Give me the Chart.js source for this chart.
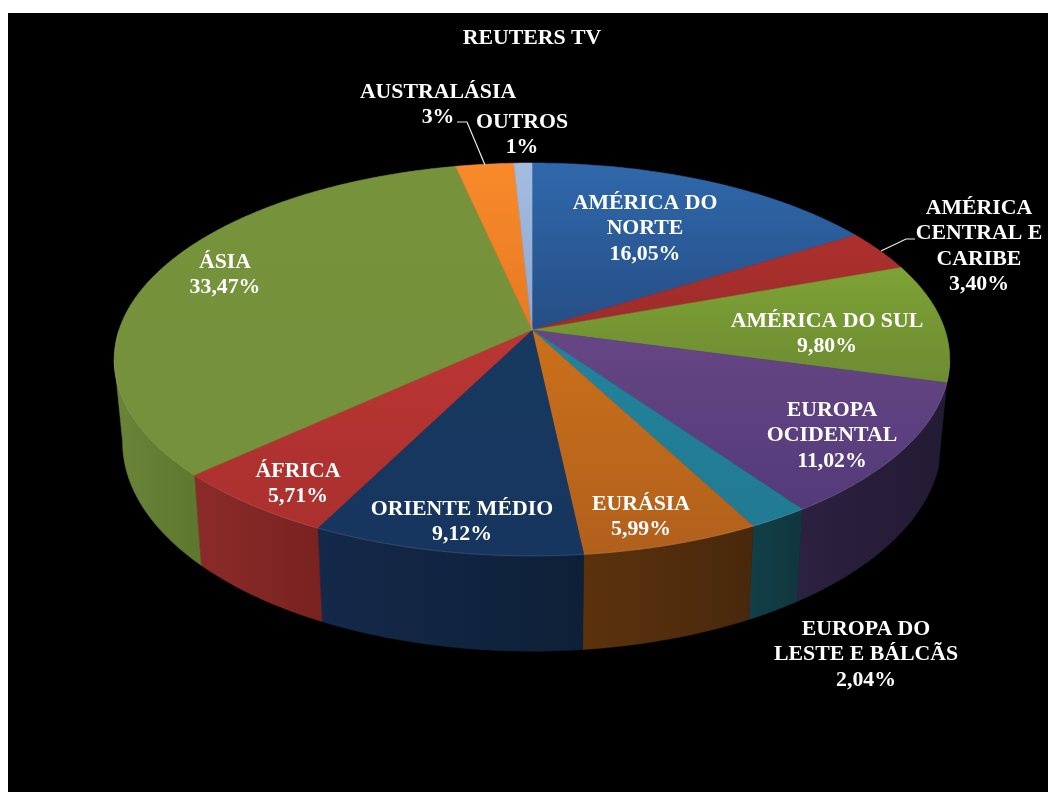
<!DOCTYPE html>
<html><head><meta charset="utf-8">
<style>html,body{margin:0;padding:0;background:#fff}canvas{display:block}</style>
<script src="https://cdn.jsdelivr.net/npm/chart.js@4/dist/chart.umd.min.js"></script>
</head><body>
<div style="width:1048px;height:792px"><canvas id="c" width="1048" height="792"></canvas></div>
<script>
const chartTitle = 'REUTERS TV';
const categories = ['AMÉRICA DO NORTE','AMÉRICA CENTRAL E CARIBE','AMÉRICA DO SUL','EUROPA OCIDENTAL','EUROPA DO LESTE E BÁLCÃS','EURÁSIA','ORIENTE MÉDIO','ÁFRICA','ÁSIA','AUSTRALÁSIA','OUTROS'];
const shareValues = [16.05,3.40,9.80,11.02,2.04,5.99,9.12,5.71,33.47,2.6,0.8];
const valueTexts = ['16,05%','3,40%','9,80%','11,02%','2,04%','5,99%','9,12%','5,71%','33,47%','3%','1%'];
const labelLines = [['AMÉRICA DO','NORTE'],['AMÉRICA','CENTRAL E','CARIBE'],['AMÉRICA DO SUL'],['EUROPA','OCIDENTAL'],['EUROPA DO','LESTE E BÁLCÃS'],['EURÁSIA'],['ORIENTE MÉDIO'],['ÁFRICA'],['ÁSIA'],['AUSTRALÁSIA'],['OUTROS']];
const faceHigh = ['#2f68ab','#ad302d','#7da235','#674685','#22839d','#cb701b','#17385f','#bb3634','#76923b','#f98a2b','#a3bce0'];
const faceLow  = ['#264e85','#9c2c2a','#6e8b32','#533a79','#217a92','#b1601c','#16365f','#aa302e','#76913b','#e67a23','#8fa8d0'];
const wallHigh = ['#1d3f6c','#7a2422','#5a7327','#2c2140','#123f49','#5c320d','#14294a','#8b2b29','#6a8438','#9a5518','#5f7190'];
const wallLow  = ['#172f52','#5a1b19','#46591e','#231a33','#10363e','#48280c','#0e2037','#792220','#5d772e','#8a4a14','#556680'];
const labelAnchors = [[645,203.5],[979,208.5],[827,321.5],[832,410.5],[866,629.5],[641,504.5],[462,509.5],[298,471.5],[225,262.5],[438,92.5],[522,122.5]];
const leaderPaths = [[[881,251],[906,239],[915,239]],[[485,165],[467,122],[457,122]]];

const view = {cx:532, cy:330, a:192, b:413, k:0.15, depth:81, shrink:0.98, lineH:25.3, wallFrom:1.84, wallTo:4.562};
const project = (t, lower) => {
  const u = Math.sin(t), v = Math.cos(t), w = 1 + view.k * v;
  const s = lower ? view.shrink : 1;
  return [view.cx + view.b * s * u / w, view.cy - view.a * v / w + (lower ? view.depth / w : 0)];
};
const arcPoints = (a0, a1, lower) => {
  const n = Math.max(2, Math.ceil((a1 - a0) / 0.01)), pts = [];
  for (let i = 0; i <= n; i++) pts.push(project(a0 + (a1 - a0) * i / n, lower));
  return pts;
};
const trace = (ctx, pts, start) => { pts.forEach((p, i) => (i === 0 && start) ? ctx.moveTo(p[0], p[1]) : ctx.lineTo(p[0], p[1])); };

const piePlugin = {
  id: 'projectedPie',
  beforeDraw(chart) {
    const ctx = chart.ctx;
    ctx.save();
    ctx.fillStyle = '#fff'; ctx.fillRect(0, 0, 1048, 792);
    ctx.fillStyle = '#000'; ctx.fillRect(8, 13, 1040, 779);
    ctx.restore();
  },
  beforeDatasetsDraw(chart) {
    const ctx = chart.ctx, arcs = chart.getDatasetMeta(0).data;
    const spans = arcs.map(e => [e.startAngle + Math.PI / 2, e.endAngle + Math.PI / 2]);
    ctx.save();
    spans.forEach((sp, i) => {
      const from = Math.max(sp[0], view.wallFrom), to = Math.min(sp[1], view.wallTo);
      if (to <= from) return;
      const top = arcPoints(from, to, false), low = arcPoints(from, to, true);
      const xs = top.concat(low).map(p => p[0]);
      const g = ctx.createLinearGradient(Math.min(...xs), 0, Math.max(...xs), 0);
      g.addColorStop(0, wallHigh[i]); g.addColorStop(1, wallLow[i]);
      ctx.beginPath(); trace(ctx, top, true); trace(ctx, low.slice().reverse(), false); ctx.closePath();
      ctx.fillStyle = g; ctx.fill();
      ctx.strokeStyle = g; ctx.lineWidth = 0.5; ctx.stroke();
    });
    spans.forEach((sp, i) => {
      const top = arcPoints(sp[0], sp[1], false);
      const ys = top.map(p => p[1]).concat(view.cy);
      const g = ctx.createLinearGradient(0, Math.min(...ys), 0, Math.max(...ys));
      g.addColorStop(0, faceHigh[i]); g.addColorStop(1, faceLow[i]);
      ctx.beginPath(); ctx.moveTo(view.cx, view.cy); trace(ctx, top, false); ctx.closePath();
      ctx.fillStyle = g; ctx.fill();
      ctx.strokeStyle = g; ctx.lineWidth = 0.6; ctx.stroke();
    });
    spans.forEach((sp) => {
      const from = Math.max(sp[0], Math.PI * 0.55), to = Math.min(sp[1], Math.PI * 1.5);
      if (to <= from) return;
      ctx.beginPath(); trace(ctx, arcPoints(from, to, false), true);
      ctx.strokeStyle = 'rgba(255,255,255,0.12)'; ctx.lineWidth = 1; ctx.stroke();
    });
    ctx.restore();
    return false;
  },
  afterDraw(chart) {
    const ctx = chart.ctx;
    ctx.save();
    ctx.strokeStyle = '#eeeeee'; ctx.lineWidth = 1.2;
    leaderPaths.forEach(path => { ctx.beginPath(); trace(ctx, path, true); ctx.stroke(); });
    ctx.fillStyle = '#fff';
    ctx.font = 'bold 21.8px "Liberation Serif"';
    ctx.textAlign = 'center'; ctx.textBaseline = 'middle';
    categories.forEach((c, i) => {
      const lines = labelLines[i].concat(valueTexts[i]);
      lines.forEach((t, j) => ctx.fillText(t, labelAnchors[i][0], labelAnchors[i][1] + j * view.lineH));
    });
    ctx.restore();
  }
};

new Chart(document.getElementById('c'), {
  type: 'pie',
  data: { labels: categories, datasets: [{ data: shareValues, backgroundColor: faceHigh, borderWidth: 0 }] },
  options: {
    responsive: false, animation: false,
    layout: { padding: { left: 16, top: 13 } },
    plugins: {
      legend: { display: false }, tooltip: { enabled: false },
      title: { display: true, text: chartTitle, color: '#fff', font: { family: '"Liberation Serif"', weight: 'bold', size: 21.8 }, padding: { top: 12, bottom: 10 } }
    }
  },
  plugins: [piePlugin]
});
</script>
</body></html>
